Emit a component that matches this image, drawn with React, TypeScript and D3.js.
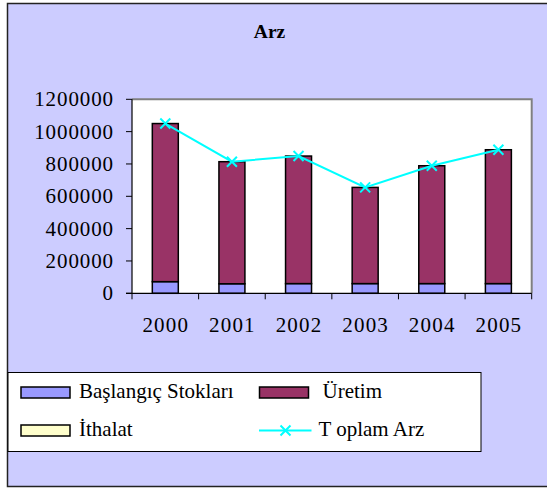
import React from "react";
import * as d3 from "d3";

const years = ["2000", "2001", "2002", "2003", "2004", "2005"];
const baslangicStoklari = [72000, 59000, 60000, 60000, 60000, 60000];
const uretim = [978000, 755000, 789000, 595000, 729000, 828000];
const ithalat = [0, 0, 0, 0, 0, 0];
const toplamArz = [1050000, 814000, 849000, 655000, 789000, 888000];
const yTicks = [0, 200000, 400000, 600000, 800000, 1000000, 1200000];

const W = 547;
const H = 488;
const plot = { left: 132, top: 99.3, right: 531.7, bottom: 293.3 };
const FONT = `"Liberation Serif"`;

export default function App() {
  const x = d3.scaleBand<string>().domain(years).range([plot.left, plot.right]).paddingInner(0.61).paddingOuter(0.305);
  const xb = d3.scaleBand<string>().domain(years).range([plot.left, plot.right]);
  const y = d3.scaleLinear().domain([0, 1200000]).range([plot.bottom, plot.top]);

  const stackData = years.map((yr, i) => ({ yr, s: baslangicStoklari[i], u: uretim[i], t: ithalat[i] }));
  const stack = d3.stack<any>().keys(["s", "u", "t"])(stackData);
  const colors: Record<string, string> = { s: "#9999FF", u: "#993366", t: "#FFFFCC" };

  const line = d3
    .line<number>()
    .x((_, i) => (xb(years[i]) as number) + xb.bandwidth() / 2)
    .y((d) => y(d));

  const xMark = (cx: number, cy: number, key: string) => (
    <path key={key} d={`M${cx - 5},${cy - 5}L${cx + 5},${cy + 5}M${cx - 5},${cy + 5}L${cx + 5},${cy - 5}`} stroke="#00FFFF" strokeWidth={2} />
  );

  const boundaries = d3.range(years.length + 1).map((i) => plot.left + i * xb.step());
  const ts = { fontFamily: FONT };

  return (
    <svg width={W} height={H} style={{ position: "absolute", left: 0, top: 0 }}>
      <rect x={0} y={0} width={W} height={H} fill="#ffffff" />
      <rect x={7.5} y={3.5} width={W + 10} height={483} fill="#CCCCFF" stroke="#222" strokeWidth={1.5} />
      <text x={269.5} y={37.7} textAnchor="middle" fontSize={19.5} fontWeight="bold" fill="#000" style={ts}>Arz</text>

      <rect x={plot.left} y={plot.top} width={plot.right - plot.left} height={plot.bottom - plot.top} fill="#fff" />
      <path d={`M${plot.left},${plot.top}H${plot.right}V${plot.bottom}`} fill="none" stroke="#808080" strokeWidth={2} />

      {stack.map((layer) =>
        layer.map((d, i) =>
          d[1] - d[0] > 0 ? (
            <rect
              key={layer.key + i}
              x={x(years[i])}
              width={x.bandwidth()}
              y={y(d[1])}
              height={y(d[0]) - y(d[1])}
              fill={colors[layer.key]}
              stroke="#000"
              strokeWidth={1.5}
            />
          ) : null
        )
      )}

      <line x1={plot.left} x2={plot.left} y1={plot.top} y2={plot.bottom} stroke="#000" strokeWidth={1.2} />
      <line x1={plot.left - 6} x2={plot.right} y1={plot.bottom} y2={plot.bottom} stroke="#000" strokeWidth={1.2} />
      {yTicks.map((t) => (
        <g key={t}>
          <line x1={plot.left - 6} x2={plot.left} y1={y(t)} y2={y(t)} stroke="#000" strokeWidth={1} />
          <text x={114} y={y(t) + 7} textAnchor="end" fontSize={21} letterSpacing={0.9} fill="#000" style={ts}>{t}</text>
        </g>
      ))}
      {boundaries.map((bx, i) => (
        <line key={i} x1={bx} x2={bx} y1={plot.bottom} y2={plot.bottom + 6} stroke="#000" strokeWidth={1} />
      ))}
      {years.map((yr) => (
        <text key={yr} x={(xb(yr) as number) + xb.bandwidth() / 2 + 0.5} y={331.7} textAnchor="middle" fontSize={21} letterSpacing={1.2} fill="#000" style={ts}>{yr}</text>
      ))}

      <path d={line(toplamArz) || ""} fill="none" stroke="#00FFFF" strokeWidth={2} />
      {toplamArz.map((v, i) => xMark((xb(years[i]) as number) + xb.bandwidth() / 2, y(v), "m" + i))}

      <rect x={8} y={372.5} width={473} height={79} fill="#fff" stroke="#000" strokeWidth={1} />
      <rect x={21} y={387} width={49} height={11} fill="#9999FF" stroke="#000" strokeWidth={1.5} />
      <text x={79} y={397.7} fontSize={21} fill="#000" style={ts}>Başlangıç Stokları</text>
      <rect x={259.5} y={387} width={49} height={11} fill="#993366" stroke="#000" strokeWidth={1.5} />
      <text x={322.5} y={397.7} fontSize={21} fill="#000" style={ts}>Üretim</text>
      <rect x={21} y={425} width={49} height={11} fill="#FFFFCC" stroke="#000" strokeWidth={1.5} />
      <text x={79} y={436} fontSize={21} fill="#000" style={ts}>İthalat</text>
      <line x1={259} x2={311.5} y1={430.5} y2={430.5} stroke="#00FFFF" strokeWidth={2} />
      {xMark(285.5, 430.5, "lm")}
      <text x={318.5} y={436} fontSize={21} fill="#000" style={ts}>T oplam Arz</text>
    </svg>
  );
}
